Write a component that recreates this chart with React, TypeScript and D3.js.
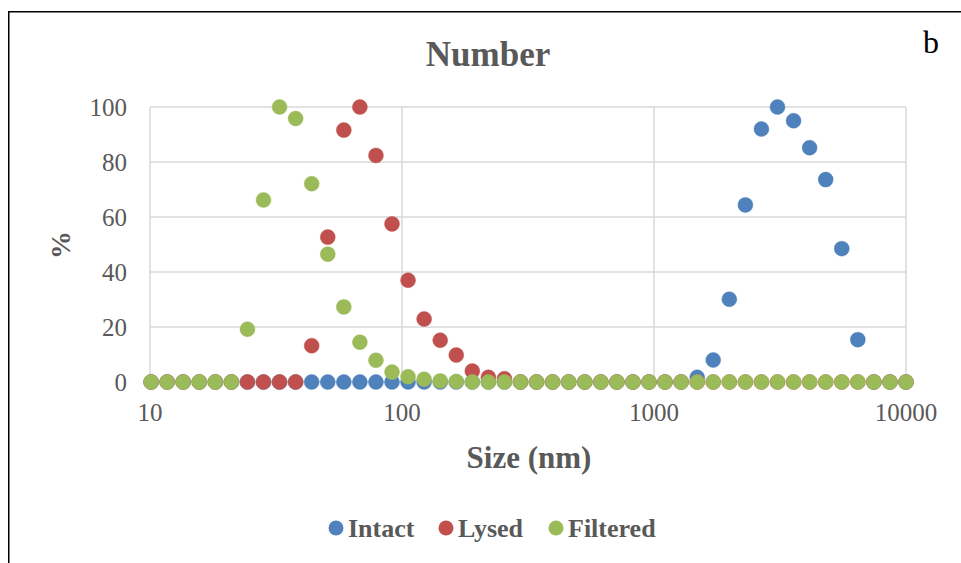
import React from "react";
import * as d3 from "d3";

// Zetasizer size bins (nm) from 10.1 to 10000
const sizes = [
  10.1, 11.7, 13.54, 15.69, 18.17, 21.04, 24.36, 28.21, 32.67, 37.84, 43.82, 50.75,
  58.77, 68.06, 78.82, 91.28, 105.7, 122.4, 141.8, 164.2, 190.1, 220.2, 255.0, 295.3,
  342.0, 396.1, 458.7, 531.2, 615.1, 712.4, 825.0, 955.4, 1106, 1281, 1484, 1718,
  1990, 2305, 2669, 3091, 3580, 4145, 4801, 5560, 6439, 7456, 8635, 10000,
];

const intact = [
  0, 0, 0, 0, 0, 0, 0, 0, 0, 0, 0, 0,
  0, 0, 0, 0, 0, 0, 0, 0, 0, 0, 0, 0,
  0, 0, 0, 0, 0, 0, 0, 0, 0, 0, 1.7, 8.0,
  30.1, 64.4, 92.0, 100, 95.0, 85.2, 73.6, 48.5, 15.4, 0, 0, 0,
];

const lysed = [
  0, 0, 0, 0, 0, 0, 0, 0, 0, 0, 13.2, 52.7,
  91.6, 100, 82.4, 57.5, 37.0, 22.9, 15.2, 9.8, 4.0, 1.7, 1.2, 0,
  0, 0, 0, 0, 0, 0, 0, 0, 0, 0, 0, 0,
  0, 0, 0, 0, 0, 0, 0, 0, 0, 0, 0, 0,
];

const filtered = [
  0, 0, 0, 0, 0, 0, 19.2, 66.2, 100, 95.8, 72.1, 46.5,
  27.3, 14.5, 7.9, 3.6, 1.9, 1.0, 0.4, 0.2, 0, 0, 0, 0,
  0, 0, 0, 0, 0, 0, 0, 0, 0, 0, 0, 0,
  0, 0, 0, 0, 0, 0, 0, 0, 0, 0, 0, 0,
];

const seriesNames = ["Intact", "Lysed", "Filtered"];
const seriesColors = ["#4F81BD", "#C0504D", "#9BBB59"];
const seriesValues = [intact, lysed, filtered];

const xTicks = [10, 100, 1000, 10000];
const yTicks = [0, 20, 40, 60, 80, 100];

const W = 961;
const H = 563;
const FONT = "'Liberation Serif', 'Times New Roman', serif";
const TEXT = "#595959";
const GRID = "#D9D9D9";

export default function App() {
  const x = d3.scaleLog().domain([10, 10000]).range([150, 906]);
  const y = d3.scaleLinear().domain([0, 100]).range([382, 107]);

  const legendX = [336, 446, 556];

  return (
    <svg
      width={W}
      height={H}
      style={{ position: "absolute", left: 0, top: 0, display: "block", background: "#fff" }}
    >
      {/* frame */}
      <path d={`M8.75,${H} V11.75 H${W + 2}`} fill="none" stroke="#000" strokeWidth={1.5} />

      {/* gridlines */}
      {yTicks.map((t) => (
        <line key={"gy" + t} x1={150} x2={906} y1={y(t)} y2={y(t)} stroke={GRID} strokeWidth={1.5} />
      ))}
      {xTicks.map((t) => (
        <line key={"gx" + t} x1={x(t)} x2={x(t)} y1={y(100)} y2={y(0)} stroke={GRID} strokeWidth={1.5} />
      ))}

      {/* y tick labels */}
      {yTicks.map((t) => (
        <text
          key={"ly" + t}
          x={127}
          y={y(t)}
          dy="0.35em"
          textAnchor="end"
          fontFamily={FONT}
          fontSize={25}
          fill={TEXT}
        >
          {t}
        </text>
      ))}
      {/* x tick labels */}
      {xTicks.map((t) => (
        <text
          key={"lx" + t}
          x={x(t)}
          y={421}
          textAnchor="middle"
          fontFamily={FONT}
          fontSize={25}
          fill={TEXT}
        >
          {t}
        </text>
      ))}

      {/* points */}
      {seriesValues.map((vals, si) => (
        <g key={"s" + si}>
          {vals.map((v, i) => (
            <circle
              key={i}
              cx={x(sizes[i])}
              cy={y(v)}
              r={7.5}
              fill={seriesColors[si]}
              stroke={seriesColors[si]}
              strokeOpacity={0.6}
              strokeWidth={0.75}
            />
          ))}
        </g>
      ))}

      {/* title */}
      <text x={488} y={66} textAnchor="middle" fontFamily={FONT} fontSize={35} fontWeight="bold" fill={TEXT}>
        Number
      </text>
      <text x={931} y={53} textAnchor="middle" fontFamily={FONT} fontSize={32} fill="#000">
        b
      </text>

      {/* axis titles */}
      <text x={529} y={468} textAnchor="middle" fontFamily={FONT} fontSize={31} fontWeight="bold" fill={TEXT}>
        Size (nm)
      </text>
      <text
        transform={`translate(70,245) rotate(-90)`}
        textAnchor="middle"
        fontFamily={FONT}
        fontSize={28}
        fontWeight="bold"
        fill={TEXT}
      >
        %
      </text>

      {/* legend */}
      {seriesNames.map((n, i) => (
        <g key={"lg" + n}>
          <circle cx={legendX[i]} cy={528} r={7.5} fill={seriesColors[i]} />
          <text x={legendX[i] + 12} y={537} fontFamily={FONT} fontSize={26} fontWeight="bold" fill={TEXT}>
            {n}
          </text>
        </g>
      ))}
    </svg>
  );
}
